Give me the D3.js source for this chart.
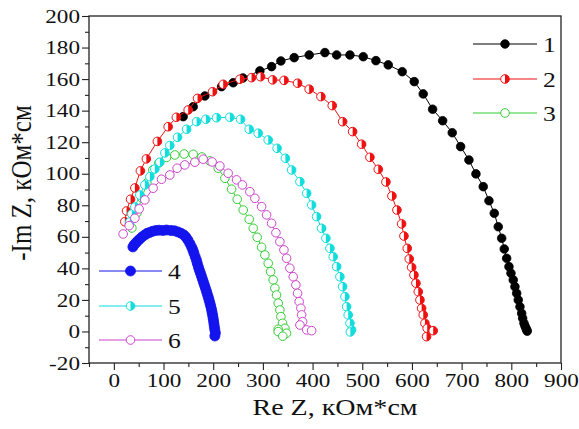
<!DOCTYPE html>
<html>
<head>
<meta charset="utf-8">
<script src="https://cdn.jsdelivr.net/npm/d3@7"></script>
<style>
  body { margin: 0; background: #fff; }
  text { font-family: "Liberation Serif", "Times New Roman", serif; fill: #111; }
</style>
</head>
<body>
<svg id="chart" width="579" height="429"></svg>
<script>
// ---- data (Re Z, -Im Z), kOhm*cm ----
const s1 = [[139.5,136.2],[159.7,142.5],[183.2,149.3],[216.8,155.2],[240.2,157.7],[259.7,160.7],
  [293.9,165.2],[317.5,167.9],[336.2,171.5],[363,173.6],[393.2,175.3],[424.8,176.8],[448.4,175.3],
  [475.2,175.3],[502,174.2],[527.5,171.7],[552.3,169],[580.4,164.7],[604.6,158.4],[622.7,150.6],
  [641.6,140.9],[661.8,133.6],[681.1,126],[698,117.2],[714.7,108.7],[728.8,99.9],[743.5,91.8],
  [755,82.9],[765.7,74.9],[773.7,66.4],[780.6,59.1],[785.8,52.3],[790.6,46.4],[795.3,41.1],
  [799.3,36.9],[803.9,32.7],[807.3,28.4],[810.8,24.2],[814,20],[817.4,15.7],[820.8,11.5],
  [822.8,8.4],[825.5,5.2],[827.5,3.5],[829.5,2],[831,1],[832,0.2]];
const s2 = [[22.1,69.6],[25.6,76.4],[33.6,83.8],[42.3,91],[53.4,101.8],[65.4,109.4],[87.6,120.5],
  [109.3,129.8],[125.8,135.8],[149.6,140.4],[168.5,147.8],[198.7,152],[220.1,156.7],[253.7,159.9],
  [277.2,160.9],[295.3,161.5],[319.5,159.5],[342.6,159.2],[369.8,157.4],[393.2,153.6],[416.8,148.9],
  [439.5,143.2],[460.5,133],[480.6,126.7],[498.7,118.7],[515.4,110.4],[532.2,102.8],[547.6,94.8],
  [559.7,85.9],[569.8,77],[579.2,68.2],[583.9,60.5],[590.5,52.7],[594.6,46],[599.4,40.7],[604,35.8],
  [608,30.6],[612.7,25.2],[616.1,20],[619.5,14.7],[622.7,10.5],[626.1,5.2],[630.7,2],[642.8,0.5],
  [629.4,-3.3]];
const s3 = [[36.2,65.6],[46.3,75.1],[56.4,84.6],[66.4,94.1],[78.5,102.4],[90.6,106.8],[106,110.3],
  [122.8,111.9],[141.5,112.5],[159.7,112.3],[177.2,110.6],[193.3,108.1],[210,103.5],[223.5,97.1],
  [237,90.2],[248.3,83.8],[260.4,77],[272.5,71.1],[280.5,65.4],[288.5,59.7],[297.4,53.4],[304,48.5],
  [310.7,43.2],[315.5,37.9],[320.7,32.7],[324.1,27.4],[327.5,23.1],[330.8,17.9],[334.2,13.6],
  [336.2,9.4],[339.6,5.2],[344.3,2],[330.8,1.4],[347.6,-1.1],[330.8,-0.1],[340,-3]];
const s4 = [[38.3,53.6],[41,55],[44.3,56.1],[48,57.4],[52.3,58.6],[57,60],[62.4,61.2],[67,62.2],
  [72.5,62.8],[78,63.5],[84.6,64],[91,64.2],[98.7,64],[106,64.3],[114.8,64],[122,63.8],[128.9,63.1],
  [135,62.3],[140.9,61.2],[145,59.8],[149,58],[153,55.8],[156.4,53.6],[159,51.7],[161.1,49.8],
  [163.6,47.5],[166.1,45.3],[168,43.1],[170.1,40.9],[172,39],[174.2,37.1],[176.2,35.2],[178.2,33.3],
  [180.2,31.4],[182.2,29.5],[184.2,27.6],[186.2,25.7],[188,23.8],[189.9,21.9],[191.6,20],[193.3,18.1],
  [194.8,16.2],[196.3,14.3],[197.5,12.4],[198.7,10.5],[199.7,8.6],[200.7,6.7],[201.5,4.8],[202.3,2.9],
  [203.3,1],[204.4,-1],[203.3,-2.9]];
const s5 = [[32.2,69.4],[36.2,74.5],[42.3,78.9],[52.3,86.5],[62.4,92.9],[72.5,98.1],[82.5,103],
  [92.6,107.3],[102.7,113.2],[112.7,117.9],[128.2,123.1],[146.4,128.2],[166.5,133],[185.2,134.5],
  [206.8,135.5],[233.5,135.8],[255.1,134.5],[272.4,128.2],[290.5,125.7],[310.7,121.4],[328.6,116.1],
  [345.3,109.8],[357.8,102.4],[374.5,95],[388,87.6],[398.1,80.2],[408.1,72.8],[418.2,65.4],
  [426.8,59.1],[434.9,52.7],[441.5,47.4],[448.4,41.1],[455,34.7],[460.4,28.4],[465.1,22.1],
  [468.5,15.7],[471.7,10.5],[475.2,5.2],[478.5,1],[476,-0.3]];
const s6 = [[18.7,61.8],[30.8,67.1],[42.3,71.8],[50.9,77.7],[62.4,83.4],[79.1,90.8],[96,96.5],
  [112.7,99.2],[127.4,103.5],[142.9,105.6],[163.1,107.3],[179.8,109.2],[197.8,107.5],[213.4,104.9],
  [230.1,100.3],[247,96.1],[258.7,92.9],[273.8,88.6],[283.9,84.4],[297.4,79.1],[307.4,73.9],
  [317.5,68.6],[326.2,62.6],[334.2,56.9],[342.3,51.7],[347.7,46.4],[354.3,40.1],[361,34.7],
  [366.4,29.5],[369.8,24.2],[373,18.9],[376.5,14.7],[377.9,10.5],[379.9,6.2],[374.5,4.1],
  [388,1],[398.1,0.5]];
const seriesLabels = ["1", "2", "3", "4", "5", "6"];
const xTicks = [0, 100, 200, 300, 400, 500, 600, 700, 800, 900];
const yTicks = [-20, 0, 20, 40, 60, 80, 100, 120, 140, 160, 180, 200];
const xTitle = "Re Z, кОм*см";
const yTitle = "-Im Z, кОм*см";

// ---- styles ----
const styles = [
  { color: "#000000", marker: "filled", r: 4.3 },
  { color: "#ee1111", marker: "half",   r: 4.3 },
  { color: "#33cc33", marker: "open",   r: 4.3 },
  { color: "#1414ee", marker: "filled", r: 5 },
  { color: "#11dddd", marker: "half",   r: 4.3 },
  { color: "#cc44cc", marker: "open",   r: 4.3 }
];
const allSeries = [s1, s2, s3, s4, s5, s6];
const SX = 1.22; // text in the picture is stretched horizontally

const svg = d3.select("#chart");
const x = d3.scaleLinear().domain([-50, 900]).range([89, 561]);
const y = d3.scaleLinear().domain([-20, 200]).range([363, 16]);

// minor ticks
svg.append("g").attr("transform", "translate(89,0)")
  .call(d3.axisLeft(y).tickValues(d3.range(-10, 200, 20)).tickSize(4).tickSizeOuter(0).tickFormat(""))
  .call(g => g.select(".domain").remove());
svg.append("g").attr("transform", "translate(0,363)")
  .call(d3.axisBottom(x).tickValues(d3.range(-50, 900, 100)).tickSize(4).tickSizeOuter(0).tickFormat(""))
  .call(g => g.select(".domain").remove());

// major ticks + labels
const yAxis = svg.append("g").attr("transform", "translate(89,0)")
  .call(d3.axisLeft(y).tickValues(yTicks).tickSize(7).tickSizeOuter(0).tickFormat(d => String(d)));
yAxis.select(".domain").remove();
yAxis.selectAll("text")
  .attr("x", -9 / SX)
  .attr("transform", `scale(${SX},1)`)
  .style("font-size", "19px");

const xAxis = svg.append("g").attr("transform", "translate(0,363)")
  .call(d3.axisBottom(x).tickValues(xTicks).tickSize(7).tickSizeOuter(0).tickFormat(d => String(d)));
xAxis.select(".domain").remove();
xAxis.selectAll("text")
  .attr("y", 24).attr("dy", null)
  .attr("transform", `scale(${SX},1)`)
  .style("font-size", "19px");

svg.selectAll(".tick line").attr("stroke", "#222").attr("stroke-width", 1.1);

// frame
svg.append("rect")
  .attr("x", 89).attr("y", 16).attr("width", 561 - 89).attr("height", 363 - 16)
  .attr("fill", "none").attr("stroke", "#222").attr("stroke-width", 1.3);

// titles
svg.append("text")
  .attr("transform", `translate(335,415) scale(${SX},1)`)
  .attr("text-anchor", "middle")
  .style("font-size", "23px")
  .text(xTitle);
svg.append("text")
  .attr("transform", `translate(31,183) scale(${SX},1) rotate(-90)`)
  .attr("text-anchor", "middle")
  .style("font-size", "25px")
  .text(yTitle);

function drawMarker(g, st) {
  const r = st.r;
  if (st.marker === "filled") {
    g.append("circle").attr("r", r).attr("fill", st.color).attr("stroke", st.color).attr("stroke-width", 0.8);
  } else if (st.marker === "open") {
    g.append("circle").attr("r", r).attr("fill", "#fff").attr("stroke", st.color).attr("stroke-width", 1);
  } else {
    g.append("circle").attr("r", r).attr("fill", "#fff").attr("stroke", st.color).attr("stroke-width", 1);
    g.append("path").attr("d", `M0,${-r}A${r},${r} 0 0 1 0,${r}Z`).attr("fill", st.color);
  }
}

const line = d3.line().x(d => x(d[0])).y(d => y(d[1]));

allSeries.forEach((data, i) => {
  const st = styles[i];
  const g = svg.append("g").attr("class", "series s" + (i + 1));
  g.append("path").datum(data)
    .attr("d", line)
    .attr("fill", "none")
    .attr("stroke", st.color)
    .attr("stroke-width", 1);
  g.selectAll("g.pt").data(data).join("g")
    .attr("class", "pt")
    .attr("transform", d => `translate(${x(d[0])},${y(d[1])})`)
    .each(function () { drawMarker(d3.select(this), st); });
});

// legends
const legendRows = [
  { i: 0, x1: 473, x2: 537, y: 44 },
  { i: 1, x1: 473, x2: 537, y: 79 },
  { i: 2, x1: 473, x2: 537, y: 113 },
  { i: 3, x1: 99, x2: 162, y: 271 },
  { i: 4, x1: 99, x2: 162, y: 306 },
  { i: 5, x1: 99, x2: 162, y: 340 }
];
legendRows.forEach(row => {
  const st = styles[row.i];
  const g = svg.append("g").attr("class", "legend");
  g.append("line")
    .attr("x1", row.x1).attr("x2", row.x2).attr("y1", row.y).attr("y2", row.y)
    .attr("stroke", st.color).attr("stroke-width", 1.2);
  const m = g.append("g").attr("transform", `translate(${(row.x1 + row.x2) / 2},${row.y})`);
  drawMarker(m, st);
  g.append("text")
    .attr("transform", `translate(${row.x2 + 6},${row.y + 8}) scale(${SX},1)`)
    .style("font-size", "21px")
    .text(seriesLabels[row.i]);
});
</script>
</body>
</html>
